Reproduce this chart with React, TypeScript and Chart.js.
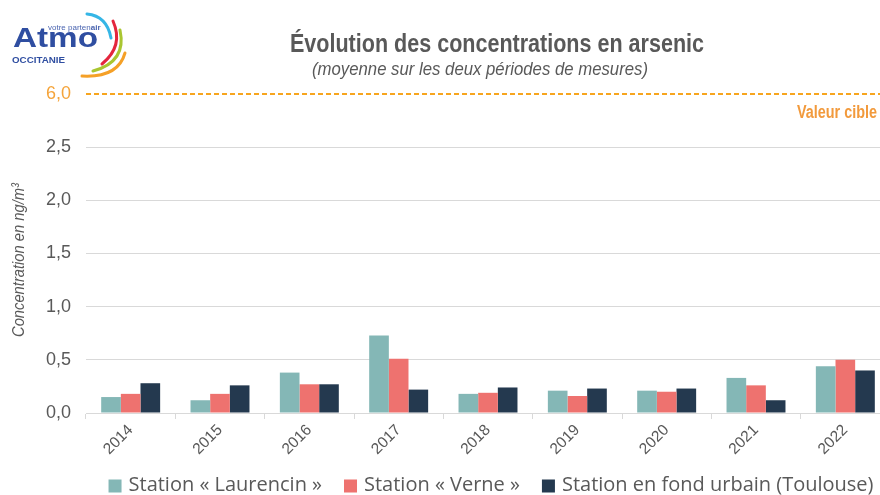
import React, { useEffect, useRef } from 'react';
import { Chart, registerables } from 'chart.js';

Chart.register(...registerables);

// ---------- data ----------
const years = ['2014', '2015', '2016', '2017', '2018', '2019', '2020', '2021', '2022'];
const laurencin = [0.15, 0.12, 0.38, 0.73, 0.18, 0.21, 0.21, 0.33, 0.44];
const verne = [0.18, 0.18, 0.27, 0.51, 0.19, 0.16, 0.2, 0.26, 0.5];
const fondUrbain = [0.28, 0.26, 0.27, 0.22, 0.24, 0.23, 0.23, 0.12, 0.4];
const seriesLabels = ['Station « Laurencin »', 'Station « Verne »', 'Station en fond urbain (Toulouse)'];
// broken axis: the top tick (axis position 3) stands for the target value 6,0
const yTickValues = [0, 0.5, 1, 1.5, 2, 2.5, 3];
const yTickLabels = ['0,0', '0,5', '1,0', '1,5', '2,0', '2,5', '6,0'];
const targetAxisValue = 3;
const titleText = 'Évolution des concentrations en arsenic';
const subtitleText = '(moyenne sur les deux périodes de mesures)';
const targetLabel = 'Valeur cible';
const yAxisTitle = 'Concentration en ng/m³';

// ---------- styles ----------
const TEAL = '#84B7B6';
const RED = '#EE726F';
const NAVY = '#24394F';
const GREY = '#595959';
const GRID = '#D9D9D9';
const ORANGE_LINE = '#F7A51E';
const ORANGE_TEXT = '#F29A3C';
const ORANGE_TICK = '#F5A43A';
const NARROW = "'Liberation Sans Narrow', 'Liberation Sans', Arial, sans-serif";
const LEGEND_FONT = "'Open Sans', 'Noto Sans', sans-serif";

function drawFitted(
  ctx: CanvasRenderingContext2D,
  text: string,
  x: number,
  y: number,
  font: string,
  width: number,
  align: CanvasTextAlign,
  color: string
) {
  ctx.save();
  ctx.font = font;
  const m = ctx.measureText(text).width;
  const s = width / m;
  ctx.translate(x, y);
  ctx.scale(s, 1);
  ctx.textAlign = align;
  ctx.textBaseline = 'alphabetic';
  ctx.fillStyle = color;
  ctx.fillText(text, 0, 0);
  ctx.restore();
}

const decorPlugin = {
  id: 'decor',
  afterDatasetsDraw(chart: any) {
    const { ctx, chartArea, scales } = chart;
    const y = Math.round(scales.y.getPixelForValue(targetAxisValue));
    ctx.save();
    ctx.strokeStyle = ORANGE_LINE;
    ctx.lineWidth = 2;
    ctx.setLineDash([5, 3]);
    ctx.beginPath();
    ctx.moveTo(chartArea.left, y);
    ctx.lineTo(chartArea.right, y);
    ctx.stroke();
    ctx.restore();
  },
  afterDraw(chart: any) {
    const { ctx, chartArea, scales } = chart;
    const yT = scales.y.getPixelForValue(targetAxisValue);
    // titles
    drawFitted(ctx, titleText, 497, 52, `bold 25px ${NARROW}`, 414, 'center', GREY);
    drawFitted(ctx, subtitleText, 480, 75, `italic 19px ${NARROW}`, 336, 'center', GREY);
    // target label
    drawFitted(ctx, targetLabel, 877, yT + 24, `bold 17.5px ${NARROW}`, 80, 'right', ORANGE_TEXT);
    // y axis title
    ctx.save();
    ctx.translate(24, (chartArea.top + chartArea.bottom) / 2 + 6.5);
    ctx.rotate(-Math.PI / 2);
    drawFitted(ctx, yAxisTitle, 0, 0, `italic 17px ${NARROW}`, 154, 'center', GREY);
    ctx.restore();
    // legend
    ctx.save();
    ctx.font = `20px ${LEGEND_FONT}`;
    const box = 13;
    const gapBT = 7;
    const gapItems = 22;
    const items = chart.data.datasets.map((d: any) => ({
      label: d.label,
      color: d.backgroundColor,
      w: ctx.measureText(d.label).width,
    }));
    const total = items.reduce((a: number, it: any) => a + box + gapBT + it.w, 0) + gapItems * (items.length - 1);
    let x = 491 - total / 2;
    const cy = 486;
    ctx.textBaseline = 'middle';
    ctx.textAlign = 'left';
    for (const it of items) {
      ctx.fillStyle = it.color;
      ctx.fillRect(x, cy - box / 2, box, box);
      x += box + gapBT;
      ctx.fillStyle = GREY;
      ctx.fillText(it.label, x, cy - 1);
      x += it.w + gapItems;
    }
    ctx.restore();
  },
};

function Logo() {
  return (
    <svg
      width={140}
      height={85}
      style={{ position: 'absolute', left: 0, top: 0 }}
      viewBox="0 0 140 85"
    >
      <text x={48} y={30} fontFamily="'Liberation Sans', Arial, sans-serif" fontSize={8} fill="#4A64B0">
        votre parten<tspan fontWeight="bold">air</tspan>
      </text>
      <text
        x={13}
        y={47}
        fontFamily="'Liberation Sans', Arial, sans-serif"
        fontWeight="bold"
        fontSize={28}
        fill="#2F4EA1"
        textLength={85}
        lengthAdjust="spacingAndGlyphs"
      >
        Atmo
      </text>
      <text
        x={12}
        y={63}
        fontFamily="'Liberation Sans', Arial, sans-serif"
        fontWeight="bold"
        fontSize={9.5}
        fill="#2F4EA1"
        textLength={53}
        lengthAdjust="spacingAndGlyphs"
      >
        OCCITANIE
      </text>
      <path d="M87,14 Q107,16 111,38" stroke="#35B6E6" strokeWidth={3} fill="none" strokeLinecap="round" />
      <path d="M113,21 Q124,46 102,64" stroke="#E4263D" strokeWidth={3} fill="none" strokeLinecap="round" />
      <path d="M120,30 Q127,62 93,71" stroke="#A9C631" strokeWidth={3} fill="none" strokeLinecap="round" />
      <path d="M125,53 Q118,78 82,76" stroke="#F5A027" strokeWidth={3} fill="none" strokeLinecap="round" />
    </svg>
  );
}

export default function App() {
  const ref = useRef<HTMLCanvasElement | null>(null);

  useEffect(() => {
    if (!ref.current) return;
    const chart = new Chart(ref.current, {
      type: 'bar',
      data: {
        labels: years,
        datasets: [
          { label: seriesLabels[0], data: laurencin, backgroundColor: TEAL },
          { label: seriesLabels[1], data: verne, backgroundColor: RED },
          { label: seriesLabels[2], data: fondUrbain, backgroundColor: NAVY },
        ],
      },
      options: {
        animation: false,
        responsive: false,
        layout: { padding: { top: 94, left: 0, right: 0, bottom: 0 } },
        datasets: { bar: { categoryPercentage: 0.66, barPercentage: 1 } },
        plugins: {
          legend: { display: false },
          tooltip: { enabled: false },
          title: { display: false },
        },
        scales: {
          x: {
            grid: {
              display: true,
              drawOnChartArea: false,
              drawTicks: true,
              tickLength: 6,
              color: GRID,
              offset: true,
            },
            border: { display: true, color: GRID },
            ticks: {
              color: GREY,
              minRotation: 45,
              maxRotation: 45,
              padding: 2,
              font: { family: NARROW, size: 15.5 },
            },
            afterFit: (s: any) => {
              s.height = 82;
            },
          },
          y: {
            min: 0,
            max: 3,
            afterBuildTicks: (s: any) => {
              s.ticks = yTickValues.map((v) => ({ value: v }));
            },
            ticks: {
              callback: (v: any) => yTickLabels[yTickValues.indexOf(Number(v))],
              color: (c: any) => (c.tick && c.tick.value === targetAxisValue ? ORANGE_TICK : GREY),
              padding: 15,
              font: { family: NARROW, size: 18 },
            },
            grid: {
              drawTicks: false,
              color: (c: any) => (c.tick && c.tick.value === targetAxisValue ? 'rgba(0,0,0,0)' : GRID),
            },
            border: { display: false },
            afterFit: (s: any) => {
              s.width = 86;
            },
          },
        },
      },
      plugins: [decorPlugin],
    } as any);
    return () => chart.destroy();
  }, []);

  return (
    <div
      style={{
        position: 'fixed',
        left: 0,
        top: 0,
        width: 880,
        height: 495,
        overflow: 'hidden',
        background: '#fff',
      }}
    >
      <canvas ref={ref} width={890} height={495} style={{ width: 890, height: 495, display: 'block' }} />
      <Logo />
    </div>
  );
}
